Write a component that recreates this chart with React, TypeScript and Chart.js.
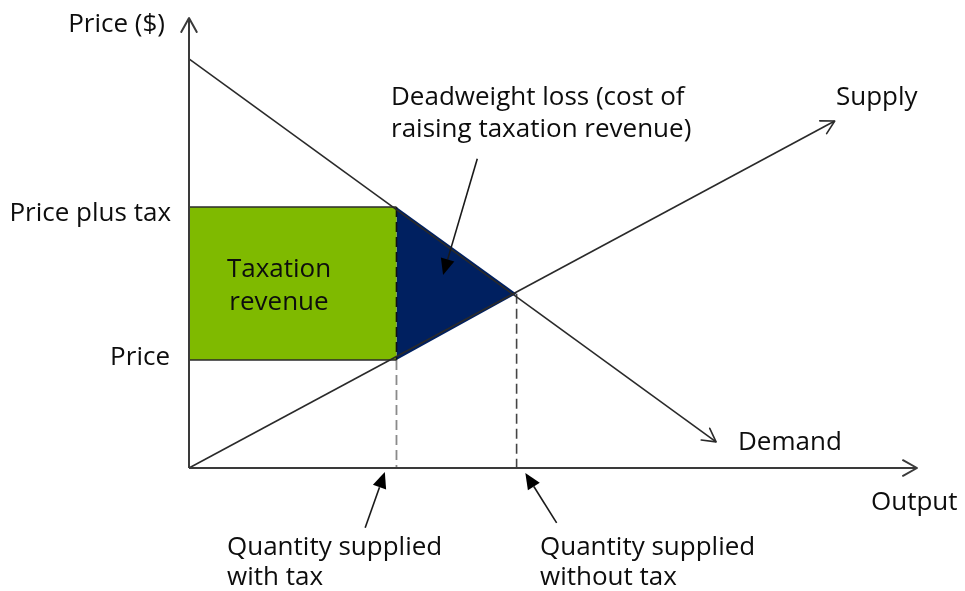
import React, { useEffect, useRef } from "react";
import { Chart, registerables } from "chart.js";

Chart.register(...registerables);

// ---- Data (quantity on x, price on y; arbitrary units 0..10) ----
const AXIS_MAX_Q = 10;
const AXIS_MAX_P = 10;

const DEMAND_Q = [0, 7.24];
const DEMAND_P = [9.09, 0.58];

const SUPPLY_Q = [0, 8.87];
const SUPPLY_P = [0, 7.71];

const Q_EQUILIBRIUM = 4.5;
const P_EQUILIBRIUM = 3.87;

const Q_WITH_TAX = 2.85;
const P_PLUS_TAX = 5.8;
const P_SELLER = 2.4;

// pointer arrows (from -> to), in data units
const POINTER_FROM_Q = [3.96, 2.42, 5.05];
const POINTER_FROM_P = [6.87, -1.33, -1.22];
const POINTER_TO_Q = [3.49, 2.69, 4.62];
const POINTER_TO_P = [4.29, -0.09, -0.11];

const FONT = "'Open Sans', 'Noto Sans', sans-serif";
const FONT_SIZE = 26;
const TEXT_COLOR = "#0d0d0d";
const LINE_COLOR = "#2a2a2a";

type Pt = { x: number; y: number };
const pts = (qs: number[], ps: number[]): Pt[] => qs.map((q, i) => ({ x: q, y: ps[i] }));

// text labels: [text, x px, y px (middle), align]
const LABELS: [string, number, number, CanvasTextAlign][] = [
  ["Price ($)", 165, 25, "right"],
  ["Price plus tax", 171, 214, "right"],
  ["Price", 170, 358, "right"],
  ["Taxation", 279, 270, "center"],
  ["revenue", 279, 303, "center"],
  ["Deadweight loss (cost of", 391, 98, "left"],
  ["raising taxation revenue)", 391, 130, "left"],
  ["Supply", 836, 98, "left"],
  ["Demand", 738, 443, "left"],
  ["Output", 871, 503, "left"],
  ["Quantity supplied", 227, 548, "left"],
  ["with tax", 227, 578, "left"],
  ["Quantity supplied", 540, 548, "left"],
  ["without tax", 540, 578, "left"],
];

function openArrow(ctx: CanvasRenderingContext2D, x0: number, y0: number, x1: number, y1: number, len: number, color: string, width: number) {
  const a = Math.atan2(y1 - y0, x1 - x0);
  const spread = Math.PI / 6.2;
  ctx.save();
  ctx.strokeStyle = color;
  ctx.lineWidth = width;
  ctx.lineCap = "round";
  ctx.lineJoin = "round";
  ctx.beginPath();
  ctx.moveTo(x1 - len * Math.cos(a - spread), y1 - len * Math.sin(a - spread));
  ctx.lineTo(x1, y1);
  ctx.lineTo(x1 - len * Math.cos(a + spread), y1 - len * Math.sin(a + spread));
  ctx.stroke();
  ctx.restore();
}

function filledArrow(ctx: CanvasRenderingContext2D, x0: number, y0: number, x1: number, y1: number) {
  const a = Math.atan2(y1 - y0, x1 - x0);
  const len = 16;
  const hw = 7;
  const bx = x1 - len * Math.cos(a);
  const by = y1 - len * Math.sin(a);
  ctx.save();
  ctx.strokeStyle = "#1a1a1a";
  ctx.fillStyle = "#000";
  ctx.lineWidth = 1.6;
  ctx.beginPath();
  ctx.moveTo(x0, y0);
  ctx.lineTo(bx, by);
  ctx.stroke();
  ctx.beginPath();
  ctx.moveTo(x1, y1);
  ctx.lineTo(bx + hw * Math.sin(a), by - hw * Math.cos(a));
  ctx.lineTo(bx - hw * Math.sin(a), by + hw * Math.cos(a));
  ctx.closePath();
  ctx.fill();
  ctx.restore();
}

const decorPlugin = {
  id: "decor",
  afterDatasetsDraw(chart: any) {
    const ctx: CanvasRenderingContext2D = chart.ctx;
    const xs = chart.scales.x;
    const ys = chart.scales.y;
    const px = (q: number) => xs.getPixelForValue(q);
    const py = (p: number) => ys.getPixelForValue(p);

    // axis arrows
    openArrow(ctx, px(0), py(0), px(0), py(AXIS_MAX_P), 16, "#3a3a3a", 2);
    openArrow(ctx, px(0), py(0), px(AXIS_MAX_Q), py(0), 16, "#3a3a3a", 2);
    // curve arrows
    openArrow(ctx, px(DEMAND_Q[0]), py(DEMAND_P[0]), px(DEMAND_Q[1]), py(DEMAND_P[1]), 15, LINE_COLOR, 1.6);
    openArrow(ctx, px(SUPPLY_Q[0]), py(SUPPLY_P[0]), px(SUPPLY_Q[1]), py(SUPPLY_P[1]), 15, LINE_COLOR, 1.6);

    // pointers
    for (let i = 0; i < POINTER_FROM_Q.length; i++) {
      filledArrow(ctx, px(POINTER_FROM_Q[i]), py(POINTER_FROM_P[i]), px(POINTER_TO_Q[i]), py(POINTER_TO_P[i]));
    }

    // labels
    ctx.save();
    ctx.fillStyle = TEXT_COLOR;
    ctx.font = `${FONT_SIZE}px ${FONT}`;
    ctx.textBaseline = "middle";
    for (const [t, x, y, al] of LABELS) {
      ctx.textAlign = al;
      ctx.fillText(t, x, y);
    }
    ctx.restore();
  },
};

export default function App() {
  const ref = useRef<HTMLCanvasElement | null>(null);

  useEffect(() => {
    document.body.style.margin = "0";
    const canvas = ref.current!;
    const base = { showLine: true, pointRadius: 0, pointHoverRadius: 0, fill: false, clip: false as any };
    const chart = new Chart(canvas, {
      type: "scatter",
      data: {
        datasets: [
          {
            ...base,
            label: "Taxation revenue",
            data: pts([0, Q_WITH_TAX, Q_WITH_TAX, 0, 0], [P_PLUS_TAX, P_PLUS_TAX, P_SELLER, P_SELLER, P_PLUS_TAX]),
            borderWidth: 0,
            borderColor: "rgba(0,0,0,0)",
            backgroundColor: "#7fba00",
            fill: "shape",
            order: 20,
          } as any,
          {
            ...base,
            label: "Deadweight loss",
            data: pts([Q_WITH_TAX, Q_EQUILIBRIUM, Q_WITH_TAX, Q_WITH_TAX], [P_PLUS_TAX, P_EQUILIBRIUM, P_SELLER, P_PLUS_TAX]),
            borderWidth: 0,
            borderColor: "rgba(0,0,0,0)",
            backgroundColor: "#002060",
            fill: "shape",
            order: 20,
          } as any,
          {
            ...base,
            label: "Price plus tax line",
            data: pts([0, Q_WITH_TAX], [P_PLUS_TAX, P_PLUS_TAX]),
            borderColor: LINE_COLOR,
            borderWidth: 1.6,
            order: 5,
          },
          {
            ...base,
            label: "Price line",
            data: pts([0, Q_WITH_TAX], [P_SELLER, P_SELLER]),
            borderColor: LINE_COLOR,
            borderWidth: 1.6,
            order: 5,
          },
          {
            ...base,
            label: "Tax qty upper",
            data: pts([Q_WITH_TAX, Q_WITH_TAX], [P_PLUS_TAX, P_SELLER]),
            borderColor: "#111",
            borderWidth: 1.6,
            borderDash: [10, 5],
            order: 5,
          },
          {
            ...base,
            label: "Tax qty lower",
            data: pts([Q_WITH_TAX, Q_WITH_TAX], [P_SELLER, 0]),
            borderColor: "#8a8a8a",
            borderWidth: 1.8,
            borderDash: [10, 5],
            order: 5,
          },
          {
            ...base,
            label: "Equilibrium qty",
            data: pts([Q_EQUILIBRIUM, Q_EQUILIBRIUM], [P_EQUILIBRIUM, 0]),
            borderColor: "#444",
            borderWidth: 1.6,
            borderDash: [10, 5],
            order: 5,
          },
          {
            ...base,
            label: "Demand",
            data: pts(DEMAND_Q, DEMAND_P),
            borderColor: LINE_COLOR,
            borderWidth: 1.6,
            order: 3,
          },
          {
            ...base,
            label: "Supply",
            data: pts(SUPPLY_Q, SUPPLY_P),
            borderColor: LINE_COLOR,
            borderWidth: 1.6,
            order: 3,
          },
          {
            ...base,
            label: "Price axis",
            data: pts([0, 0], [0, AXIS_MAX_P]),
            borderColor: "#3a3a3a",
            borderWidth: 2,
            order: 1,
          },
          {
            ...base,
            label: "Output axis",
            data: pts([0, AXIS_MAX_Q], [0, 0]),
            borderColor: "#3a3a3a",
            borderWidth: 2,
            order: 1,
          },
        ],
      },
      options: {
        animation: false,
        responsive: false,
        events: [],
        layout: { padding: { left: 189, right: 48, top: 18, bottom: 123 } },
        scales: {
          x: { type: "linear", min: 0, max: AXIS_MAX_Q, display: false },
          y: { type: "linear", min: 0, max: AXIS_MAX_P, display: false },
        },
        plugins: { legend: { display: false }, tooltip: { enabled: false } },
      },
      plugins: [decorPlugin],
    });
    return () => chart.destroy();
  }, []);

  return (
    <div style={{ position: "absolute", left: 0, top: 0, width: 965, height: 591, background: "#fff" }}>
      <canvas ref={ref} width={965} height={591} style={{ display: "block" }} />
    </div>
  );
}
